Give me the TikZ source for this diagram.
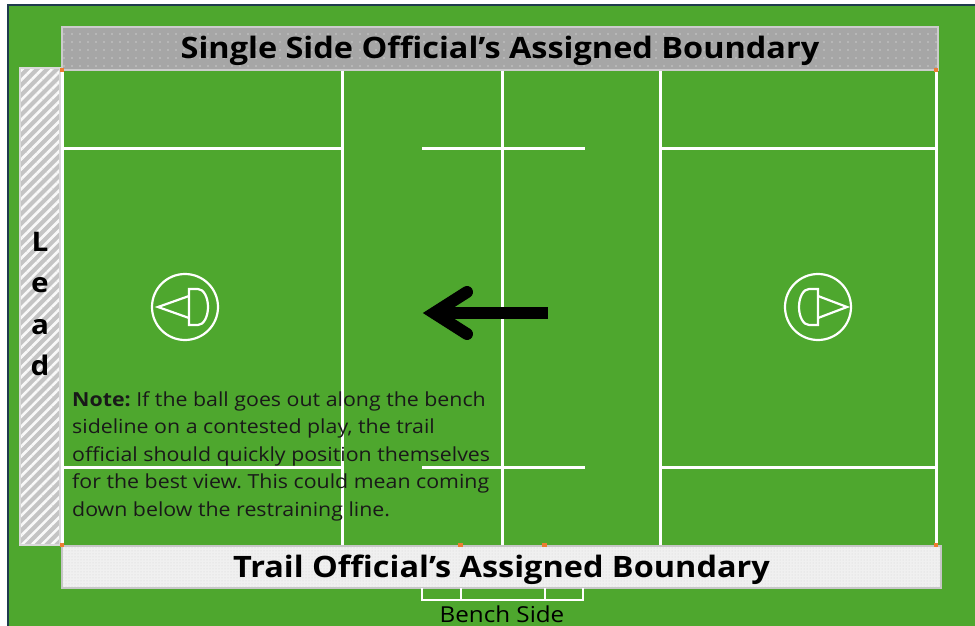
\documentclass[tikz,border=0pt]{standalone}
\usepackage{fontspec}
\setmainfont{Open Sans}[FakeStretch=1.1]
\usetikzlibrary{patterns.meta}
\definecolor{turf}{HTML}{4EA72E}
\definecolor{framecol}{HTML}{1F3B4D}
\definecolor{markorange}{HTML}{ED7D31}
\definecolor{topgray}{HTML}{A6A6A6}
\definecolor{botgray}{HTML}{F0F0F0}
\definecolor{leadgray}{HTML}{C4C4C4}
\tikzset{
  fieldline/.style={draw=white, line width=3pt},
  benchline/.style={draw=white, line width=2pt},
  topbox/.style={draw=gray!40, line width=1.5pt, preaction={fill=topgray},
    pattern={Dots[distance=8pt, radius=0.7pt]}, pattern color=white!85!topgray,
    inner sep=0pt, text height=21pt, text depth=1pt,
    font=\bfseries\fontsize{29.5}{30}\selectfont, text=black},
  botbox/.style={draw=gray!45, line width=2pt, preaction={fill=botgray},
    pattern={Dots[distance=3pt, radius=0.5pt]}, pattern color=gray!35,
    inner sep=0pt, text height=21pt, text depth=1pt,
    font=\bfseries\fontsize{29.5}{30}\selectfont, text=black},
  leadbox/.style={draw=gray!30, line width=1.5pt, preaction={fill=leadgray},
    pattern={Lines[angle=45, distance=7pt, line width=2.6pt]}, pattern color=white!90!leadgray,
    inner sep=0pt},
  notetext/.style={anchor=base west, inner sep=0pt, text=black!90, font=\fontsize{19.4}{24}\selectfont},
  marker/.style={fill=markorange},
  symbol/.style={draw=white, line width=2.2pt},
}
\begin{document}
\frenchspacing
\begin{tikzpicture}[x=1pt,y=-1pt]
\useasboundingbox (0,0) rectangle (975,626);
\fill[white] (0,0) rectangle (975,626);
\fill[turf] (8,5) rectangle (975,626);
\draw[framecol, line width=2pt] (8,626) -- (8,5) -- (975,5);

% field lines
\draw[fieldline] (62,70) -- (62,545);
\draw[fieldline] (936,70) -- (936,545);
\draw[fieldline] (342,70) -- (342,545);
\draw[fieldline] (502,70) -- (502,545);
\draw[fieldline] (660,70) -- (660,545);
\draw[fieldline] (62,148) -- (342,148);
\draw[fieldline] (422,148) -- (585,148);
\draw[fieldline] (660,148) -- (936,148);
\draw[fieldline] (62,467) -- (342,467);
\draw[fieldline] (422,467) -- (585,467);
\draw[fieldline] (660,467) -- (936,467);

% boundary boxes
\node[topbox, minimum width=876pt, minimum height=43pt] (topb) at (500,48.5) {Single Side Official’s Assigned Boundary};
\node[botbox, minimum width=879pt, minimum height=42pt] (botb) at (501.5,567) {Trail Official’s Assigned Boundary};
\node[leadbox, minimum width=40pt, minimum height=477pt] (leadb) at (40,306.5) {};
\node[align=center, inner sep=0pt, font=\bfseries\fontsize{27}{41.5}\selectfont] (leadtxt) at (40,304) {L\\e\\a\\d};

% corner markers
\fill[marker] (60,68) rectangle (64,72);
\fill[marker] (934,68) rectangle (938,72);
\fill[marker] (60,543) rectangle (64,547);
\fill[marker] (934,543) rectangle (938,547);
\fill[marker] (458,543) rectangle (463,547);
\fill[marker] (542,543) rectangle (547,547);

% bench area
\draw[benchline] (422,588) -- (422,600) -- (583,600) -- (583,588);
\draw[benchline] (461,588) -- (461,600);
\draw[benchline] (545,588) -- (545,600);
\node[font=\fontsize{22}{24}\selectfont, inner sep=0pt, anchor=base] (bench) at (502,622) {Bench Side};

% official symbols
\node[circle, symbol, minimum size=66pt, inner sep=0pt] (leftsym) at (185,307) {};
\draw[symbol] (189,289) -- (198,289) arc[start angle=-90, end angle=90, x radius=10, y radius=18] -- (189,325) -- cycle;
\draw[symbol, line join=miter] (189,296) -- (158,307) -- (189,318);
\node[circle, symbol, minimum size=66pt, inner sep=0pt] (rightsym) at (818,307) {};
\draw[symbol] (818,289) -- (809,289) arc[start angle=-90, end angle=-270, x radius=10, y radius=18] -- (818,325) -- cycle;
\draw[symbol, line join=miter] (818,296) -- (847,307) -- (818,318);

% direction arrow
\coordinate (arrTail) at (548,313);
\coordinate (arrShaftEnd) at (440,313);
\coordinate (arrTip) at (434,313);
\coordinate (arrUp) at (467,292);
\coordinate (arrDown) at (467,334);
\draw[black, line width=12pt] (arrTail) -- (arrShaftEnd);
\draw[black, line width=12pt, line cap=round, line join=miter] (arrUp) -- (arrTip) -- (arrDown);

% note
\node[notetext] (n1) at (72,406) {\textbf{Note:} If the ball goes out along the bench};
\node[notetext] (n2) at (72,433.5) {sideline on a contested play, the trail};
\node[notetext] (n3) at (72,461) {official should quickly position themselves};
\node[notetext] (n4) at (72,488.5) {for the best view. This could mean coming};
\node[notetext] (n5) at (72,516) {down below the restraining line.};
\end{tikzpicture}
\end{document}
